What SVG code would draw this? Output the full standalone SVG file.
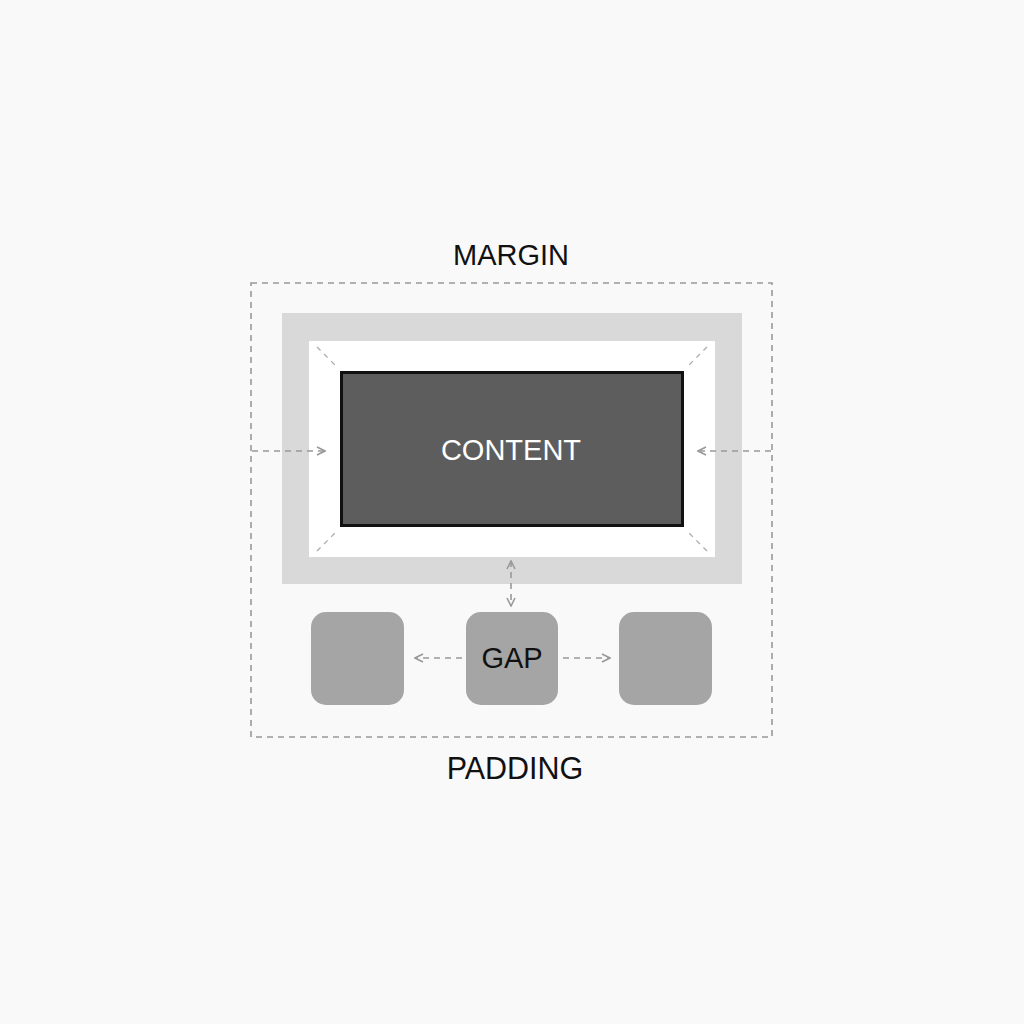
<svg xmlns="http://www.w3.org/2000/svg" width="1024" height="1024" viewBox="0 0 1024 1024">
<defs>
<style>
.lbl{font-family:"Liberation Sans",Arial,sans-serif;font-size:29px;fill:#111;text-anchor:middle}
.dash{fill:none;stroke:#999;stroke-width:1.6;stroke-dasharray:6 5}
.diag{fill:none;stroke:#aaa;stroke-width:1.3;stroke-dasharray:5 5}
.item{fill:#a5a5a5}
</style>
<marker id="arr" viewBox="0 0 10 10" refX="9" refY="5" markerWidth="10" markerHeight="10" markerUnits="userSpaceOnUse" orient="auto-start-reverse">
<path d="M1,1 L9,5 L1,9" fill="none" stroke="#999" stroke-width="1.6"/>
</marker>
</defs>
<rect width="1024" height="1024" fill="#f9f9f9"/>
<g id="margin">
<rect x="251" y="283" width="521" height="454" class="dash"/>
<text x="511" y="265" class="lbl">MARGIN</text>
</g>
<g id="frame">
<rect x="282" y="313" width="460" height="271" fill="#d9d9d9"/>
<rect x="309" y="341" width="406" height="216" fill="#ffffff"/>
</g>
<g id="content">
<rect x="341.5" y="372.5" width="341" height="153" fill="#5d5d5d" stroke="#111" stroke-width="3"/>
<text x="511" y="460" class="lbl" style="fill:#fff">CONTENT</text>
</g>
<g id="item-left"><rect x="311" y="612" width="93" height="93" rx="15" class="item"/></g>
<g id="item-gap"><rect x="466" y="612" width="92" height="93" rx="15" class="item"/>
<text x="512" y="668" class="lbl">GAP</text></g>
<g id="item-right"><rect x="619" y="612" width="93" height="93" rx="15" class="item"/></g>
<g id="padding"><text x="515" y="779" class="lbl" style="font-size:30.5px">PADDING</text></g>
<g id="connectors">
<line x1="317" y1="347" x2="337" y2="367" class="diag"/>
<line x1="707" y1="347" x2="687" y2="367" class="diag"/>
<line x1="317" y1="551" x2="337" y2="531" class="diag"/>
<line x1="707" y1="551" x2="687" y2="531" class="diag"/>
<line x1="252" y1="451" x2="325" y2="451" class="dash" marker-end="url(#arr)"/>
<line x1="771" y1="451" x2="698" y2="451" class="dash" marker-end="url(#arr)"/>
<line x1="511" y1="561" x2="511" y2="606" class="dash" marker-start="url(#arr)" marker-end="url(#arr)"/>
<line x1="462" y1="658" x2="415" y2="658" class="dash" marker-end="url(#arr)"/>
<line x1="563" y1="658" x2="610" y2="658" class="dash" marker-end="url(#arr)"/>
</g>
</svg>
